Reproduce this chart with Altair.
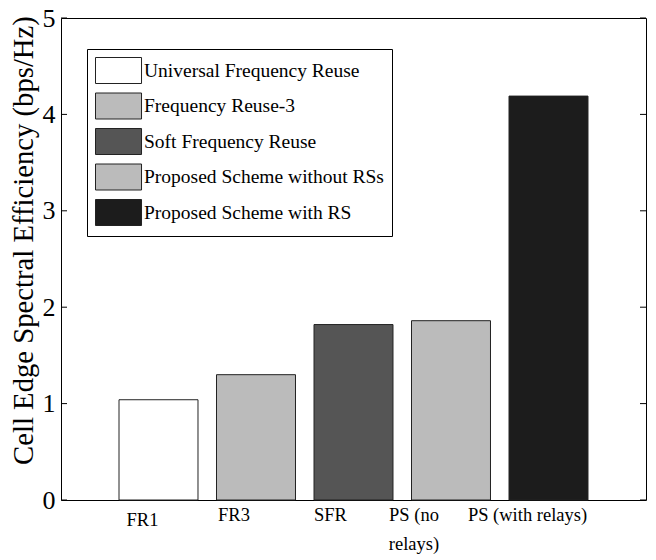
import altair as alt
import pandas as pd

schemes = ["FR1", "FR3", "SFR", "PS (no relays)", "PS (with relays)"]
efficiency = [1.04, 1.30, 1.82, 1.86, 4.19]
legend_names = [
    "Universal Frequency Reuse",
    "Frequency Reuse-3",
    "Soft Frequency Reuse",
    "Proposed Scheme without RSs",
    "Proposed Scheme with RS",
]
fills = ["#ffffff", "#bbbbbb", "#555555", "#bbbbbb", "#1c1c1c"]
y_ticks = [0, 1, 2, 3, 4, 5]

FONT = "Liberation Serif"
W, H = 585, 482

df = pd.DataFrame({"scheme": schemes, "eff": efficiency, "legend": legend_names})
ticks_df = pd.DataFrame({"v": y_ticks})

x_axis = alt.Axis(
    title=None,
    domain=False,
    ticks=False,
    grid=False,
    labelAngle=0,
    labelFont=FONT,
    labelFontSize=18.5,
    labelColor="black",
    labelBaseline="top",
    labelLineHeight=29,
    labelExpr="datum.value == 'PS (no relays)' ? ['PS (no', 'relays)'] : datum.value",
    labelOffset={
        "condition": [
            {"test": "datum.value == 'FR1'", "value": -16},
            {"test": "datum.value == 'FR3'", "value": -22},
            {"test": "datum.value == 'SFR'", "value": -23},
            {"test": "datum.value == 'PS (no relays)'", "value": -37},
        ],
        "value": -21,
    },
    labelPadding={
        "condition": {"test": "datum.value == 'FR1'", "value": 10},
        "value": 5,
    },
)

y_axis = alt.Axis(
    title="Cell Edge Spectral Efficiency (bps/Hz)",
    titleFont=FONT,
    titleFontSize=28.7,
    titleFontWeight="normal",
    titleColor="black",
    titlePadding=4,
    titleY=222,
    values=y_ticks,
    format="d",
    labelFont=FONT,
    labelFontSize=26,
    labelColor="black",
    labelPadding=6,
    ticks=False,
    domain=False,
    grid=False,
)

bars = alt.Chart(df).mark_bar(stroke="#222222", strokeWidth=1).encode(
    x=alt.X(
        "scheme:N",
        sort=schemes,
        scale=alt.Scale(paddingInner=0.19, paddingOuter=0.595),
        axis=x_axis,
    ),
    y=alt.Y("eff:Q", scale=alt.Scale(domain=[0, 5], nice=False), axis=y_axis),
    color=alt.Color(
        "legend:N",
        sort=legend_names,
        scale=alt.Scale(domain=legend_names, range=fills),
        legend=alt.Legend(
            title=None,
            orient="none",
            legendX=26,
            legendY=31,
            padding=8,
            strokeColor="black",
            fillColor="white",
            symbolType="M-1,-1H2.54V1H-1Z",
            symbolSize=676,
            symbolStrokeColor="#222222",
            symbolStrokeWidth=1,
            symbolOpacity=1,
            labelFont=FONT,
            labelFontSize=19.5,
            labelColor="black",
            labelOffset=22,
            labelLimit=0,
            rowPadding=4.5,
        ),
    ),
)

left_ticks = alt.Chart(ticks_df).mark_rule(color="black", strokeWidth=1).encode(
    y=alt.Y("v:Q"), x=alt.value(0), x2=alt.value(6)
)
right_ticks = alt.Chart(ticks_df).mark_rule(color="black", strokeWidth=1).encode(
    y=alt.Y("v:Q"), x=alt.value(W - 6), x2=alt.value(W)
)

chart = (
    alt.layer(bars, left_ticks, right_ticks)
    .properties(
        width=W,
        height=H,
        autosize=alt.AutoSizeParams(type="none"),
        padding={"left": 53, "top": 10, "right": 2, "bottom": 54},
        background="white",
    )
    .configure_view(stroke="black", strokeWidth=1)
)

chart.save("out.html", embed_options={"renderer": "svg", "actions": False})
